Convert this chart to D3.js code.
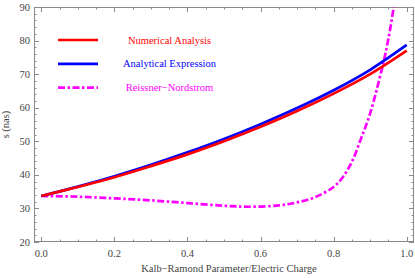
<!DOCTYPE html>
<html>
<head>
<meta charset="utf-8">
<script src="https://cdn.jsdelivr.net/npm/d3@7"></script>
<style>
  body { margin: 0; background: #fff; }
  text { font-family: "Liberation Serif", "Times New Roman", serif; }
</style>
</head>
<body>
<div id="chart"></div>
<script>
const size = { width: 415, height: 278 };
const margin = { top: 7, right: 1, bottom: 36, left: 34 };

// x positions of the samples
const xNum = [0, 0.1, 0.2, 0.3, 0.4, 0.5, 0.6, 0.7, 0.8, 0.9, 1.0];
const numerical = [33.7, 36.4, 39.3, 42.6, 46.1, 50.0, 54.3, 59.0, 64.2, 70.0, 77.0];
const analytical = [33.7, 36.5, 39.6, 43.0, 46.7, 50.7, 55.1, 59.9, 65.2, 71.3, 78.7];

const xRN = [0, 0.1, 0.2, 0.3, 0.4, 0.5, 0.57, 0.65, 0.7, 0.75, 0.8, 0.825, 0.85, 0.875, 0.9, 0.925, 0.94, 0.955, 0.97];
const reissner = [33.7, 33.5, 33.0, 32.4, 31.6, 30.8, 30.5, 30.9, 31.8, 33.4, 36.4, 39.3, 43.9, 50.8, 58.3, 68.4, 75.2, 83.6, 94.0];

const xTicks = [0, 0.2, 0.4, 0.6, 0.8, 1.0];
const yTicks = [20, 30, 40, 50, 60, 70, 80, 90];
const legendLabels = ["Numerical Analysis", "Analytical Expression", "Reissner\u2212Nordstrom"];
const colors = ["#ff0000", "#0000ff", "#ff00ff"];

const w = size.width - margin.left - margin.right;
const h = size.height - margin.top - margin.bottom;

const svg = d3.select("#chart").append("svg")
  .attr("width", size.width)
  .attr("height", size.height);

const x = d3.scaleLinear().domain([-0.02, 1.02]).range([margin.left, margin.left + w]);
const y = d3.scaleLinear().domain([20, 90]).range([margin.top + h, margin.top]);

//clip the curves to the frame
svg.append("clipPath").attr("id", "clip")
  .append("rect")
  .attr("x", margin.left).attr("y", margin.top)
  .attr("width", w).attr("height", h);

const frameColor = "#8a8a8a";
const labelColor = "#444";

// ticks on all four sides, pointing inward
const xMinor = d3.range(0, 1.0001, 0.05);
const yMinor = d3.range(20, 90.001, 2);
const isMajorX = v => Math.abs(v * 5 - Math.round(v * 5)) < 1e-6;
const isMajorY = v => v % 10 === 0;

const ticks = svg.append("g").attr("stroke", frameColor).attr("stroke-width", 1);
xMinor.forEach(v => {
  const len = isMajorX(v) ? 5 : 2.5;
  const px = Math.round(x(v)) + 0.5;
  ticks.append("line").attr("x1", px).attr("x2", px)
    .attr("y1", margin.top + h).attr("y2", margin.top + h - len);
  ticks.append("line").attr("x1", px).attr("x2", px)
    .attr("y1", margin.top).attr("y2", margin.top + len);
});
yMinor.forEach(v => {
  const len = isMajorY(v) ? 5 : 2.5;
  const py = Math.round(y(v)) + 0.5;
  ticks.append("line").attr("y1", py).attr("y2", py)
    .attr("x1", margin.left).attr("x2", margin.left + len);
  ticks.append("line").attr("y1", py).attr("y2", py)
    .attr("x1", margin.left + w).attr("x2", margin.left + w - len);
});

svg.append("rect")
  .attr("x", margin.left + 0.5).attr("y", margin.top + 0.5)
  .attr("width", w - 1).attr("height", h - 1)
  .attr("fill", "none").attr("stroke", frameColor);

// tick labels
svg.append("g").selectAll("text").data(xTicks).join("text")
  .attr("x", d => x(d)).attr("y", margin.top + h + 15)
  .attr("text-anchor", "middle")
  .attr("font-size", 10.5).attr("fill", labelColor)
  .text(d => d.toFixed(1));

svg.append("g").selectAll("text").data(yTicks).join("text")
  .attr("x", margin.left - 4).attr("y", d => y(d) + 3.5)
  .attr("text-anchor", "end")
  .attr("font-size", 10.5).attr("fill", labelColor)
  .text(d => d);

// axis labels
svg.append("text")
  .attr("x", 229).attr("y", 272)
  .attr("text-anchor", "middle")
  .attr("font-size", 10.5).attr("fill", labelColor)
  .text("Kalb\u2212Ramond Parameter/Electric Charge");

svg.append("text")
  .attr("transform", "translate(9," + (margin.top + h / 2) + ") rotate(-90)")
  .attr("text-anchor", "middle")
  .attr("font-size", 10.5).attr("fill", labelColor)
  .text("s (nas)");

// curves
const line = d3.line()
  .curve(d3.curveCatmullRom.alpha(0.5))
  .x(d => x(d[0]))
  .y(d => y(d[1]));

const curves = svg.append("g").attr("clip-path", "url(#clip)");
const dash = "7,2.5,2.5,2.5";

curves.append("path")
  .datum(d3.zip(xRN, reissner))
  .attr("d", line)
  .attr("fill", "none").attr("stroke", colors[2]).attr("stroke-width", 2.7)
  .attr("stroke-dasharray", dash);

curves.append("path")
  .datum(d3.zip(xNum, analytical))
  .attr("d", line)
  .attr("fill", "none").attr("stroke", colors[1]).attr("stroke-width", 2.7);

curves.append("path")
  .datum(d3.zip(xNum, numerical))
  .attr("d", line)
  .attr("fill", "none").attr("stroke", colors[0]).attr("stroke-width", 2.7);

// legend
const legend = svg.append("g");
legendLabels.forEach((label, i) => {
  const ly = 40 + i * 23.8;
  legend.append("line")
    .attr("x1", 58).attr("x2", 98)
    .attr("y1", ly).attr("y2", ly)
    .attr("stroke", colors[i]).attr("stroke-width", 2.7)
    .attr("stroke-dasharray", i === 2 ? dash : null);
  legend.append("text")
    .attr("x", 169.5).attr("y", ly + 3.5)
    .attr("text-anchor", "middle")
    .attr("font-size", 10.5).attr("fill", colors[i])
    .text(label);
});
</script>
</body>
</html>
